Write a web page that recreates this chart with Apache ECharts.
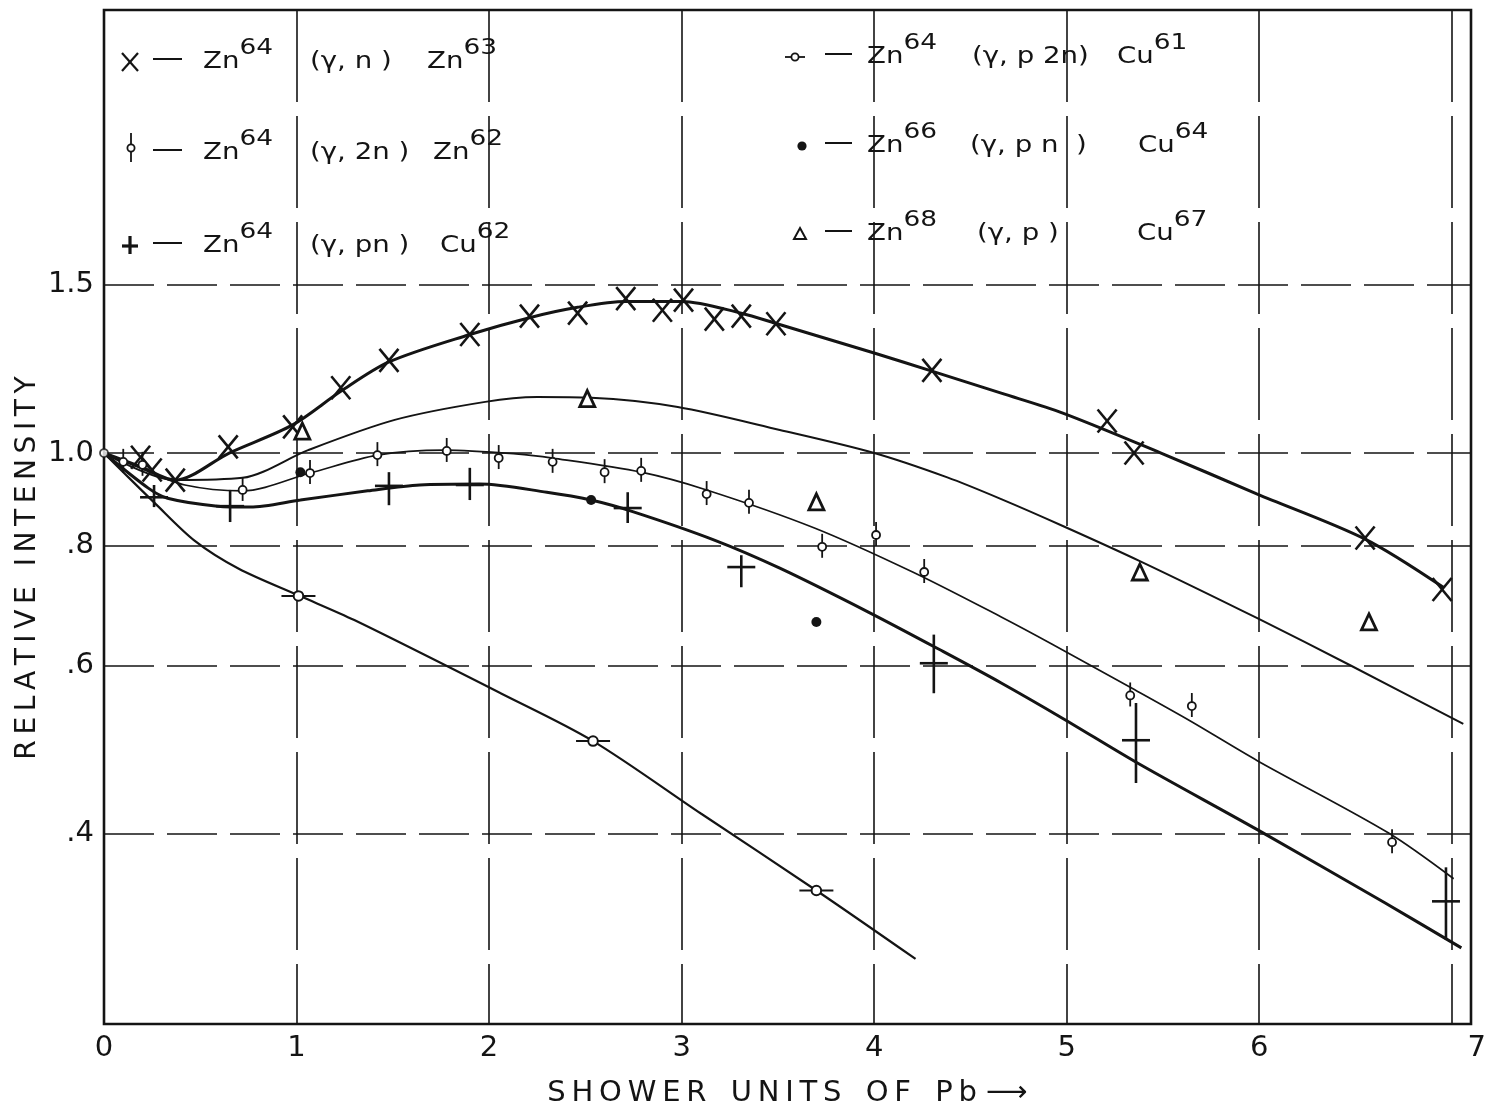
<!DOCTYPE html>
<html>
<head>
<meta charset="utf-8">
<title>Relative intensity vs. shower units of Pb</title>
<script src="https://cdn.jsdelivr.net/npm/echarts@6/dist/echarts.min.js"></script>
<style>
  html, body { margin: 0; padding: 0; background: #ffffff; }
  #chart { width: 1487px; height: 1112px; }
</style>
</head>
<body>
<div id="chart"></div>
<script>
// ---- Data: relative yield of photonuclear reactions in zinc vs. Pb absorber (shower units) ----

// axis
const xMax = 7.1;
const yMin = 0.2531;
const yMax = 2.904;
const yGridValues = [0.4, 0.6, 0.8, 1.0, 1.5];
const yGridLabels = ['.4', '.6', '.8', '1.0', '1.5'];

// common normalisation point
const normPoint = [[0, 1.0]];

// Zn64 (γ,n) Zn63  — X
const gnPoints = [
  [0.19, 0.99], [0.25, 0.96], [0.37, 0.937], [0.645, 1.015], [0.98, 1.065],
  [1.23, 1.17], [1.48, 1.25], [1.90, 1.33], [2.21, 1.39], [2.46, 1.40],
  [2.71, 1.45], [2.90, 1.41], [3.01, 1.445], [3.17, 1.38], [3.31, 1.39],
  [3.49, 1.365], [4.30, 1.22], [5.21, 1.08], [5.35, 1.0], [6.55, 0.815], [6.95, 0.72]
];
const gnCurve = [
  [0, 1.0], [0.19, 0.968], [0.37, 0.937], [0.65, 1.0], [0.98, 1.07], [1.23, 1.16],
  [1.48, 1.245], [1.9, 1.33], [2.21, 1.385], [2.46, 1.42], [2.71, 1.44], [3.0, 1.44],
  [3.31, 1.40], [3.5, 1.364], [4.0, 1.272], [4.30, 1.218], [4.66, 1.155], [4.98, 1.101],
  [5.49, 1.0], [5.99, 0.906], [6.55, 0.813], [6.96, 0.723]
];

// Zn64 (γ,2n) Zn62  — open circle with vertical bar
const g2nPoints = [
  [0.10, 0.979], [0.20, 0.972], [0.72, 0.915], [1.07, 0.953], [1.42, 0.995],
  [1.78, 1.005], [2.05, 0.988], [2.33, 0.979], [2.60, 0.955], [2.79, 0.958],
  [3.13, 0.906], [3.35, 0.887], [3.73, 0.798], [4.01, 0.821], [4.26, 0.751],
  [5.33, 0.558], [5.65, 0.544], [6.69, 0.392]
];
const g2nCurve = [
  [0, 1.0], [0.2, 0.962], [0.42, 0.926], [0.72, 0.913], [1.07, 0.953], [1.42, 0.995],
  [1.77, 1.007], [2.14, 0.998], [2.33, 0.988], [2.79, 0.955], [3.13, 0.915], [3.69, 0.835],
  [4.20, 0.751], [4.66, 0.674], [4.92, 0.632], [5.33, 0.569], [5.64, 0.525], [5.99, 0.477],
  [6.67, 0.401], [7.01, 0.359]
];

// Zn64 (γ,pn) Cu62  — plus, with vertical extent [x, y, low, high]
const gpnPoints = [
  [0.26, 0.899, 0.878, 0.926], [0.655, 0.880, 0.847, 0.915], [1.48, 0.924, 0.882, 0.955],
  [1.90, 0.926, 0.893, 0.965], [2.72, 0.876, 0.845, 0.910], [3.31, 0.760, 0.724, 0.782],
  [4.31, 0.603, 0.561, 0.646], [5.36, 0.501, 0.452, 0.548], [6.97, 0.340, 0.310, 0.369]
];
const gpnCurve = [
  [0, 1.0], [0.23, 0.919], [0.33, 0.897], [0.59, 0.880], [0.76, 0.878], [1.02, 0.893],
  [1.37, 0.913], [1.64, 0.926], [1.95, 0.928], [2.30, 0.910], [2.53, 0.893], [2.75, 0.868],
  [3.17, 0.811], [3.51, 0.758], [3.97, 0.682], [4.36, 0.620], [4.66, 0.575], [4.98, 0.528],
  [5.37, 0.474], [5.99, 0.404], [6.65, 0.339], [7.05, 0.304]
];

// Zn64 (γ,p2n) Cu61  — open circle with horizontal bar
const gp2nPoints = [[1.01, 0.709], [2.54, 0.500], [3.70, 0.349]];
const gp2nCurve = [
  [0, 1.0], [0.1, 0.955], [0.26, 0.888], [0.47, 0.81], [0.7, 0.757], [1.01, 0.710],
  [1.30, 0.669], [2.06, 0.561], [2.54, 0.500], [3.1, 0.420], [3.70, 0.349], [4.215, 0.296]
];

// Zn66 (γ,pn) Cu64  — filled dot
const zn66Points = [[1.02, 0.955], [2.53, 0.893], [3.70, 0.666]];

// Zn68 (γ,p) Cu67  — open triangle
const gpPoints = [[1.03, 1.054], [2.51, 1.14], [3.70, 0.889], [5.38, 0.751], [6.57, 0.666]];
const gpCurve = [
  [0, 1.0], [0.37, 0.937], [0.72, 0.942], [1.06, 1.007], [1.51, 1.083], [1.98, 1.131],
  [2.25, 1.144], [2.53, 1.142], [2.98, 1.117], [3.51, 1.057], [4.0, 1.0], [4.38, 0.943],
  [4.66, 0.895], [4.98, 0.839], [5.38, 0.771], [5.99, 0.672], [6.48, 0.599], [7.06, 0.521]
];

// ---- Styling ----
const INK = '#141414';
const FONT = '"DejaVu Sans", "Liberation Sans", sans-serif';
const NARROW = '\u2009';

function spaced(word) { return word.split('').join(NARROW); }

// ---- Marker glyphs (custom series) ----
function lineEl(x1, y1, x2, y2, w) {
  return { type: 'line', shape: { x1, y1, x2, y2 }, style: { stroke: INK, lineWidth: w, lineCap: 'butt' } };
}

function renderX(params, api) {
  const p = api.coord([api.value(0), api.value(1)]);
  const w = 9.5, h = 11.5;
  return { type: 'group', children: [
    lineEl(p[0] - w, p[1] - h, p[0] + w, p[1] + h, 2.6),
    lineEl(p[0] + w, p[1] - h, p[0] - w, p[1] + h, 2.6)
  ]};
}

function renderVBar(params, api) {
  const p = api.coord([api.value(0), api.value(1)]);
  return { type: 'group', children: [
    lineEl(p[0], p[1] - 13, p[0], p[1] + 11, 1.8),
    { type: 'circle', shape: { cx: p[0], cy: p[1], r: 4 }, style: { fill: '#fff', stroke: INK, lineWidth: 1.8 } }
  ]};
}

function renderPlus(params, api) {
  const x = api.value(0);
  const p = api.coord([x, api.value(1)]);
  const lo = api.coord([x, api.value(2)]);
  const hi = api.coord([x, api.value(3)]);
  return { type: 'group', children: [
    lineEl(p[0] - 14, p[1], p[0] + 14, p[1], 2.6),
    lineEl(p[0], hi[1], p[0], lo[1], 2.6)
  ]};
}

function renderHBar(params, api) {
  const p = api.coord([api.value(0), api.value(1)]);
  return { type: 'group', children: [
    lineEl(p[0] - 17, p[1], p[0] + 17, p[1], 2),
    { type: 'circle', shape: { cx: p[0], cy: p[1], r: 4.8 }, style: { fill: '#fff', stroke: INK, lineWidth: 2 } }
  ]};
}

function renderDot(params, api) {
  const p = api.coord([api.value(0), api.value(1)]);
  return { type: 'circle', shape: { cx: p[0], cy: p[1], r: 5 }, style: { fill: INK } };
}

function renderTriangle(params, api) {
  const p = api.coord([api.value(0), api.value(1)]);
  return { type: 'polygon',
    shape: { points: [[p[0], p[1] - 8], [p[0] + 7.5, p[1] + 8], [p[0] - 7.5, p[1] + 8]] },
    style: { fill: '#fff', stroke: INK, lineWidth: 2.8, lineJoin: 'miter' } };
}

function curve(data, width) {
  return {
    type: 'line', data, smooth: 0.3, showSymbol: false, silent: true, animation: false,
    lineStyle: { color: INK, width }, z: 3
  };
}

function glyphSeries(data, renderItem) {
  return { type: 'custom', data, renderItem, encode: { x: 0, y: 1 }, silent: true, animation: false, z: 5 };
}

// ---- Key (two columns of three rows) ----
const keyRows = [
  { glyph: 'x',    gx: 130, y: 62,  dash: [153, 182], parts: [[203, 'Zn{s|64}'], [310, '(γ, n )'],    [427, 'Zn{s|63}']] },
  { glyph: 'vbar', gx: 131, y: 153, dash: [153, 182], parts: [[203, 'Zn{s|64}'], [310, '(γ, 2n )'],   [433, 'Zn{s|62}']] },
  { glyph: 'plus', gx: 130, y: 246, dash: [153, 182], parts: [[203, 'Zn{s|64}'], [310, '(γ, pn )'],   [440, 'Cu{s|62}']] },
  { glyph: 'hbar', gx: 795, y: 57,  dash: [825, 852], parts: [[867, 'Zn{s|64}'], [972, '(γ, p 2n)'],  [1117, 'Cu{s|61}']] },
  { glyph: 'dot',  gx: 802, y: 146, dash: [825, 852], parts: [[867, 'Zn{s|66}'], [970, '(γ, p n  )'], [1138, 'Cu{s|64}']] },
  { glyph: 'tri',  gx: 800, y: 234, dash: [825, 852], parts: [[867, 'Zn{s|68}'], [977, '(γ, p )'],    [1137, 'Cu{s|67}']] }
];

function keyGlyph(kind, cx, cy) {
  switch (kind) {
    case 'x': return [lineEl(cx - 8, cy - 9, cx + 8, cy + 9, 2.2), lineEl(cx + 8, cy - 9, cx - 8, cy + 9, 2.2)];
    case 'vbar': return [lineEl(cx, cy - 20, cx, cy + 9, 1.8),
      { type: 'circle', shape: { cx, cy: cy - 5, r: 3.6 }, style: { fill: '#fff', stroke: INK, lineWidth: 1.8 } }];
    case 'plus': return [lineEl(cx - 8, cy, cx + 8, cy, 3.2), lineEl(cx, cy - 10, cx, cy + 8, 3.2)];
    case 'hbar': return [lineEl(cx - 10, cy, cx + 10, cy, 1.8),
      { type: 'circle', shape: { cx, cy, r: 3.6 }, style: { fill: '#fff', stroke: INK, lineWidth: 1.8 } }];
    case 'dot': return [{ type: 'circle', shape: { cx, cy, r: 4.6 }, style: { fill: INK } }];
    case 'tri': return [{ type: 'polygon', shape: { points: [[cx, cy - 6], [cx + 6, cy + 5], [cx - 6, cy + 5]] },
      style: { fill: '#fff', stroke: INK, lineWidth: 2 } }];
  }
  return [];
}

const keyElements = [];
keyRows.forEach(row => {
  keyGlyph(row.glyph, row.gx, row.y).forEach(el => keyElements.push(el));
  keyElements.push(lineEl(row.dash[0], row.y - 3, row.dash[1], row.y - 3, 2));
  row.parts.forEach(([x, t]) => {
    keyElements.push({
      type: 'text', x, y: row.y, scaleX: 1.2,
      style: {
        text: t, fontSize: 23, fontFamily: FONT, fill: INK, align: 'left', verticalAlign: 'middle',
        rich: { s: { fontSize: 22, fontFamily: FONT, fill: INK, padding: [0, 0, 28, 0] } }
      }
    });
  });
});

// y-axis title
keyElements.push({
  type: 'text', x: 28, y: 568, rotation: Math.PI / 2,
  style: {
    text: spaced('RELATIVE') + NARROW + NARROW + ' ' + spaced('INTENSITY'),
    fontSize: 28, fontFamily: FONT, fill: INK, align: 'center', verticalAlign: 'middle'
  }
});

// ---- Chart ----
const chart = echarts.init(document.getElementById('chart'), null, { renderer: 'canvas' });

const gridCurve = curve(gp2nCurve, 2.2);
gridCurve.markLine = {
  silent: true, symbol: 'none', animation: false,
  lineStyle: { color: INK, width: 1.6, type: [50, 13] },
  label: {
    show: true, position: 'start', distance: 10,
    formatter: p => yGridLabels[p.dataIndex],
    color: INK, fontSize: 29, fontFamily: FONT
  },
  emphasis: { disabled: true },
  data: yGridValues.map(v => ({ yAxis: v }))
};

const WORD_GAP = '  ' + NARROW;

chart.setOption({
  backgroundColor: '#ffffff',
  animation: false,
  grid: {
    left: 104, right: 16, top: 10, bottom: 88,
    containLabel: false, outerBoundsMode: 'none',
    show: true, borderColor: INK, borderWidth: 2.6, backgroundColor: 'transparent'
  },
  xAxis: {
    type: 'value', min: 0, max: xMax, interval: 1,
    axisLine: { show: false }, axisTick: { show: false },
    splitLine: { show: true, lineStyle: { color: INK, width: 1.6, type: [92, 14] } },
    axisLabel: {
      margin: 10, color: INK, fontSize: 29, fontFamily: FONT,
      formatter: v => Number.isInteger(v) ? (v === 7 ? '{r|7}' : String(v)) : '',
      rich: { r: { fontSize: 29, fontFamily: FONT, color: INK, padding: [0, 0, 0, 50] } }
    },
    name: ['SHOWER', 'UNITS', 'OF', 'Pb'].map(spaced).join(WORD_GAP) + ' ⟶',
    nameLocation: 'middle', nameGap: 55,
    nameTextStyle: { color: INK, fontSize: 29, fontFamily: FONT }
  },
  yAxis: {
    type: 'log', logBase: 10, min: yMin, max: yMax,
    axisLine: { show: false }, axisTick: { show: false },
    axisLabel: { show: false }, splitLine: { show: false }
  },
  graphic: keyElements,
  series: [
    curve(gnCurve, 3),
    curve(gpCurve, 2),
    curve(g2nCurve, 1.7),
    curve(gpnCurve, 3),
    gridCurve,
    glyphSeries(gnPoints, renderX),
    glyphSeries(gpPoints, renderTriangle),
    glyphSeries(g2nPoints, renderVBar),
    glyphSeries(gpnPoints, renderPlus),
    glyphSeries(gp2nPoints, renderHBar),
    glyphSeries(zn66Points, renderDot),
    {
      type: 'scatter', data: normPoint, symbol: 'circle', symbolSize: 8, silent: true, z: 6,
      itemStyle: { color: '#fff', borderColor: INK, borderWidth: 1.8 }
    }
  ]
});
</script>
</body>
</html>
